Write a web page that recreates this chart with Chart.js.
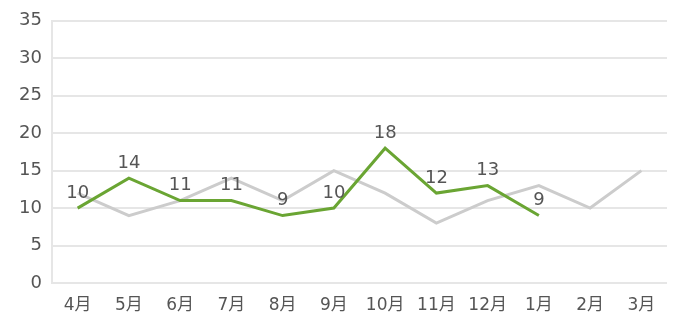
<!DOCTYPE html>
<html lang="ja">
<head>
  <meta charset="UTF-8">
  <title>月別推移</title>
  <script src="https://cdn.jsdelivr.net/npm/chart.js"></script>
  <style>
    html, body { margin: 0; padding: 0; background: #fff; }
    #wrap { width: 685px; height: 333px; }
  </style>
</head>
<body>
<div id="wrap"><canvas id="grafico"></canvas></div>

<script>
  const meses = ["4月", "5月", "6月", "7月", "8月", "9月", "10月", "11月", "12月", "1月", "2月", "3月"];
  const esteAno = [10, 14, 11, 11, 9, 10, 18, 12, 13, 9, null, null];
  const anoAnterior = [12, 9, 11, 14, 11, 15, 12, 8, 11, 13, 10, 15];
  const yMax = 35;
  const yPaso = 5;

  const fuente = "'DejaVu Sans', 'Noto Sans CJK JP', sans-serif";

  // etiquetas encima de la serie verde
  const etiquetas = {
    id: "etiquetas",
    afterDatasetsDraw(chart) {
      const ctx = chart.ctx;
      const meta = chart.getDatasetMeta(0);
      ctx.save();
      ctx.font = "18px " + fuente;
      ctx.fillStyle = "#555";
      ctx.textAlign = "center";
      ctx.textBaseline = "middle";
      meta.data.forEach((p, i) => {
        const v = esteAno[i];
        if (v === null) return;
        ctx.fillText(String(v), p.x, p.y - 15);
      });
      ctx.restore();
    }
  };

  new Chart(document.getElementById("grafico"), {
    type: "line",
    data: {
      labels: meses,
      datasets: [
        {
          label: "今年",
          data: esteAno,
          borderColor: "#6aa533",
          borderWidth: 3,
          pointRadius: 0,
          tension: 0,
          fill: false
        },
        {
          label: "前年",
          data: anoAnterior,
          borderColor: "#cccccc",
          borderWidth: 3,
          pointRadius: 0,
          tension: 0,
          fill: false
        }
      ]
    },
    options: {
      responsive: true,
      maintainAspectRatio: false,
      animation: false,
      layout: { padding: { top: 20, right: 18, left: 0, bottom: 0 } },
      plugins: {
        legend: { display: false },
        tooltip: { enabled: false }
      },
      scales: {
        x: {
          offset: true,
          grid: { display: false, drawTicks: false },
          border: { display: false },
          ticks: { color: "#555", padding: 12, font: { family: fuente, size: 17 } },
          afterFit(scale) { scale.height = 50; }
        },
        y: {
          min: 0,
          max: yMax,
          grid: { color: "#e6e6e6", lineWidth: 2, drawTicks: false },
          border: { display: true, color: "#e6e6e6", width: 2 },
          ticks: { stepSize: yPaso, color: "#555", padding: 10, font: { family: fuente, size: 18 } },
          afterFit(scale) { scale.width = 52; }
        }
      }
    },
    plugins: [etiquetas]
  });
</script>
</body>
</html>
